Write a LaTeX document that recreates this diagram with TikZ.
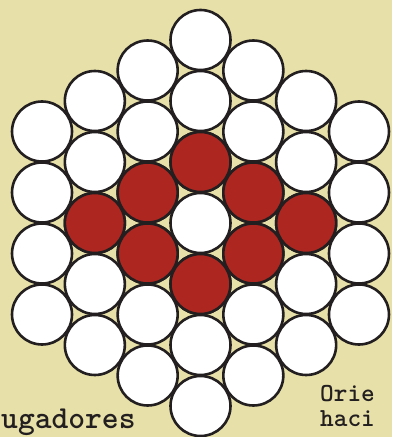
\documentclass[tikz,border=0pt]{standalone}
\usepackage{tikz}

\definecolor{cream}{RGB}{231,224,168}
\definecolor{brick}{RGB}{174,38,32}
\definecolor{ink}{RGB}{35,31,32}

\begin{document}
\begin{tikzpicture}[x=1pt,y=1pt,
    disc/.style={draw=ink, line width=2.6pt, fill=white},
    captext/.style={font=\ttfamily\bfseries\fontsize{32}{24}\selectfont, inner sep=0pt, text=ink, anchor=base west}]

      % Background sheet
      \fill[cream] (0,0) rectangle (392,437);
      \clip (0,0) rectangle (392,437);

      % White discs, column by column
      \foreach \i in {-3,...,3}{
        \pgfmathtruncatemacro\n{6-abs(\i)}
        \foreach \k in {0,...,\n}
          \draw[disc] ({200.5+52.83*\i},{214+61*(\k-\n/2)}) circle (30);
      }

      % Red discs round the centre
      \foreach \i/\k in {0/1,0/-1,1/0.5,1/-0.5,-1/0.5,-1/-0.5,2/0,-2/0}
        \draw[disc, fill=brick] ({200.5+52.83*\i},{214+61*\k}) circle (30);

      % Labels cut by the edge
      \node[captext] (players) at (1,9) {ugadores};
      \node[captext, align=left, font=\ttfamily\bfseries\fontsize{26}{26}\selectfont] (orient) at (320,10) {Orie\\haci};

    \end{tikzpicture}
\end{document}
